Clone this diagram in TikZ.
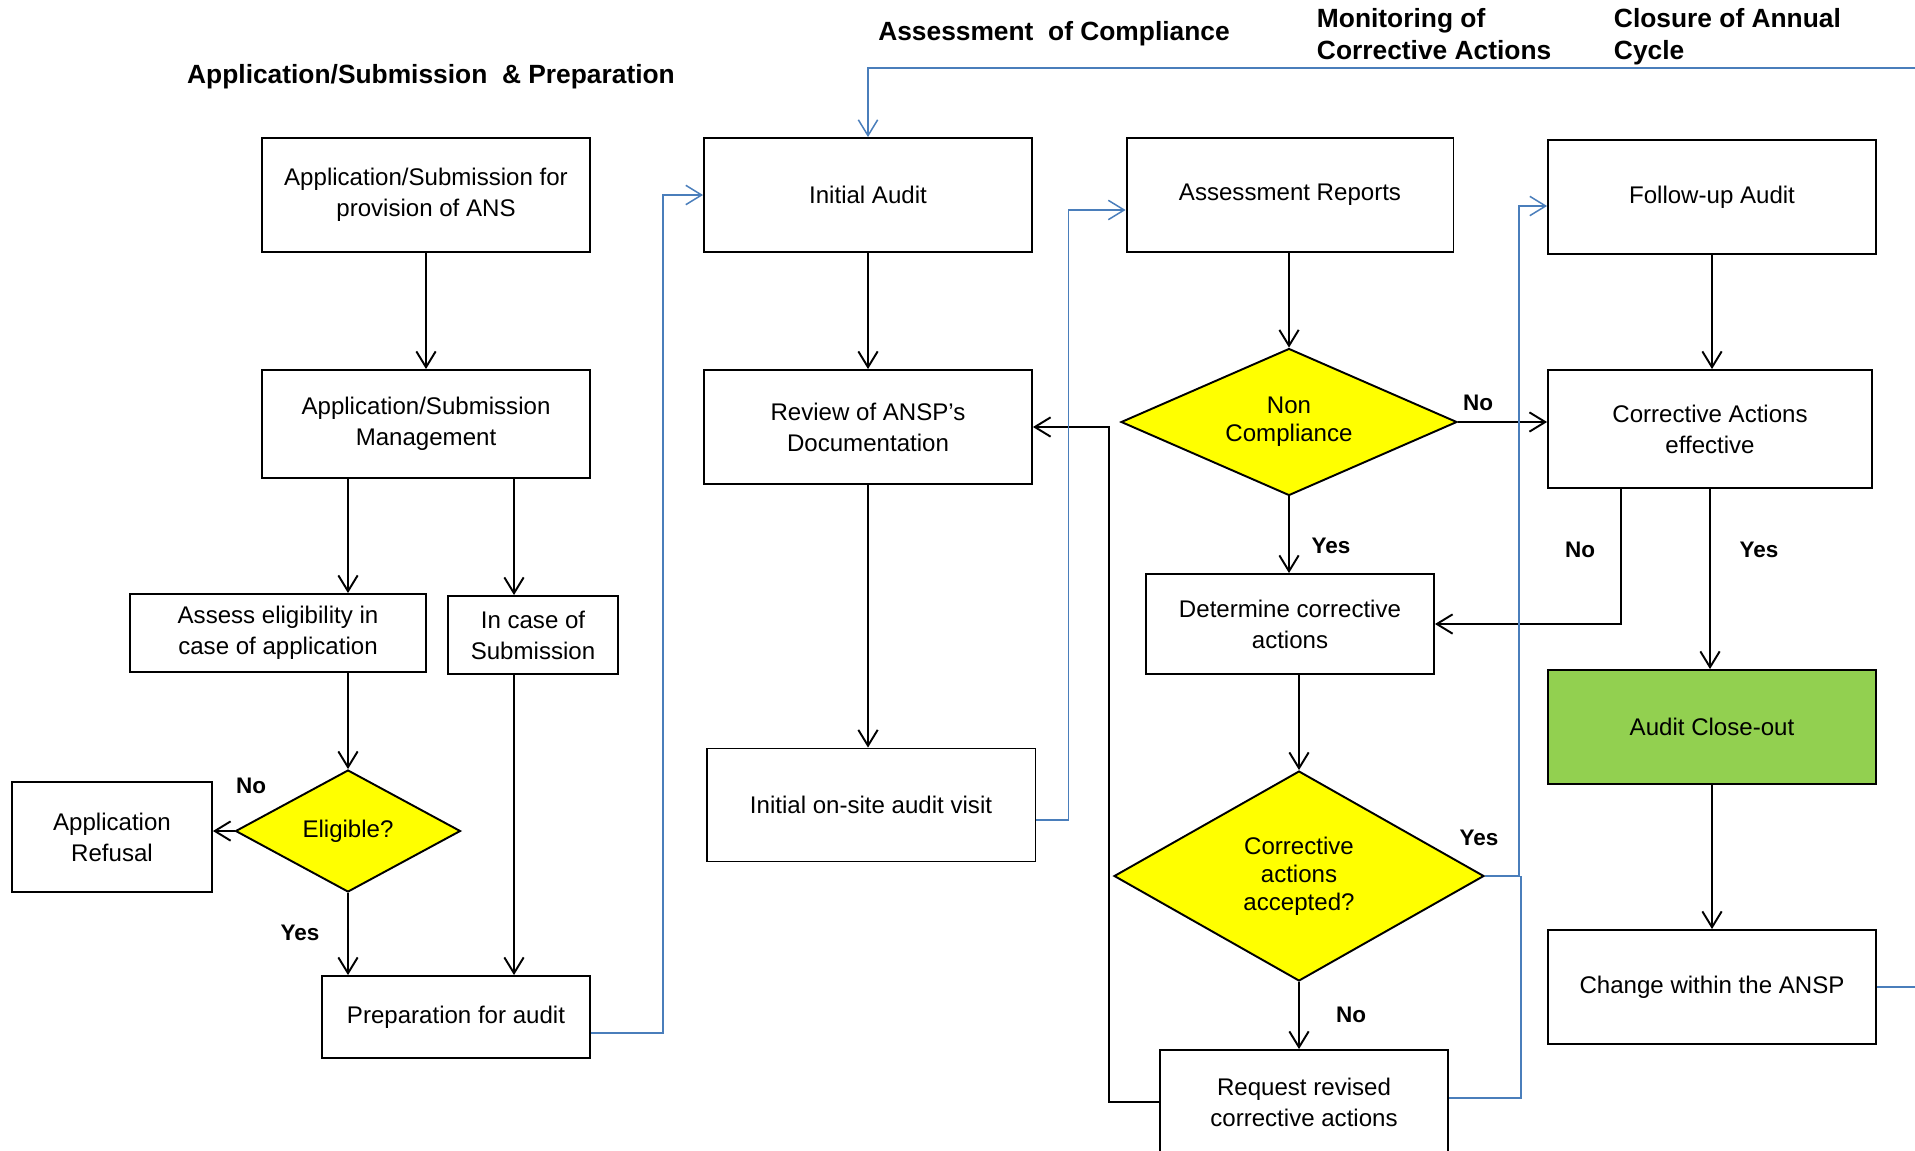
\documentclass[tikz,border=0pt]{standalone}
\usepackage{fontspec}
\setmainfont{Liberation Sans}
\usetikzlibrary{arrows.meta}
\usetikzlibrary{calc}
\usetikzlibrary{shapes.geometric}
\definecolor{lineblue}{HTML}{4A7EBB}
\definecolor{decyellow}{HTML}{FFFF00}
\definecolor{closegreen}{HTML}{92D050}
\begin{document}
\begin{tikzpicture}[x=0.02cm,y=-0.02cm,>={Straight Barb[length=9pt,width=11pt]},line width=1.1pt,
	box/.style={draw,line width=1.1pt,align=center,inner sep=2pt,font=\fontsize{13.7}{17.6}\selectfont},
	dec/.style={draw,diamond,fill=decyellow,aspect=1.8,inner sep=0pt,align=center,font=\fontsize{13.7}{16}\selectfont},
	lbl/.style={font=\bfseries\fontsize{12.8}{15}\selectfont},
	ttl/.style={font=\bfseries\fontsize{15}{18.2}\selectfont,align=left,inner sep=0pt},
	flow/.style={lineblue,line width=0.85pt}]
			\useasboundingbox(0,0)rectangle(1915,1150);
			\clip(0,0)rectangle(1915,1150);
			\node[ttl](T0)at(431,77){Application/Submission \ \& Preparation};
			\node[ttl](T1)at(1054,34){Assessment \ of Compliance};
			\node[ttl,anchor=west](T2)at(1316,34){Monitoring of\\Corrective Actions};
			\node[ttl,anchor=west](T3)at(1613,37){Closure of Annual\\Cycle};
			\node[box,minimum width=6.56cm,minimum height=2.28cm](P0)at(426,195){Application/Submission for\\provision of ANS};
			\node[box,minimum width=6.56cm,minimum height=2.16cm](P1)at(426,424){Application/Submission\\Management};
			\node[box,minimum width=5.92cm,minimum height=1.56cm](P2)at(278,633){Assess eligibility in\\case of application};
			\node[box,minimum width=3.4cm,minimum height=1.56cm](P3)at(533,635){In case of\\Submission};
			\node[dec,minimum width=4.5cm,minimum height=2.44cm](P4)at(348,831){Eligible?};
			\node[box,minimum width=4cm,minimum height=2.2cm](P5)at(112,837){Application\\Refusal};
			\node[box,minimum width=5.36cm,minimum height=1.64cm](P6)at(456,1017){Preparation for audit};
			\node[box,minimum width=6.56cm,minimum height=2.28cm](C0)at(868,195){Initial Audit};
			\node[box,minimum width=6.56cm,minimum height=2.28cm](C1)at(868,427){Review of ANSP’s\\Documentation};
			\node[box,minimum width=6.58cm,minimum height=2.26cm](C2)at(871,805){Initial on-site audit visit};
			\node[box,minimum width=6.54cm,minimum height=2.28cm](M0)at(1290,195){Assessment Reports};
			\node[dec,minimum width=6.72cm,minimum height=2.94cm](M1)at(1289,422){Non\\Compliance};
			\node[box,minimum width=5.76cm,minimum height=2cm](M2)at(1290,624){Determine corrective\\actions};
			\node[dec,minimum width=7.4cm,minimum height=4.2cm](M3)at(1299,876){Corrective\\actions\\accepted?};
			\node[box,minimum width=5.76cm,minimum height=2.08cm](M4)at(1304,1102){Request revised\\corrective actions};
			\node[box,minimum width=6.56cm,minimum height=2.28cm](Z0)at(1712,197){Follow-up Audit};
			\node[box,minimum width=6.48cm,minimum height=2.36cm](Z1)at(1710,429){Corrective Actions\\effective};
			\node[box,fill=closegreen,minimum width=6.56cm,minimum height=2.28cm](Z2)at(1712,727){Audit Close-out};
			\node[box,minimum width=6.56cm,minimum height=2.28cm](Z3)at(1712,987){Change within the ANSP};
			\node[lbl](N1)at(251,786){No};
			\node[lbl](Y1)at(300,933){Yes};
			\node[lbl](N2)at(1478,403){No};
			\node[lbl](Y2)at(1331,546){Yes};
			\node[lbl](Y3)at(1479,838){Yes};
			\node[lbl](N3)at(1351,1015){No};
			\node[lbl](N4)at(1580,550){No};
			\node[lbl](Y4)at(1759,550){Yes};
			\coordinate(s)at(514,0);
			\coordinate(R)at(1935,68);
			\draw[->](P0)--(P1);
			\draw[->](P1.south-|P4)--(P4|-P2.north);
			\draw[->](P1.south-|s)--(P3.north-|s);
			\draw[->](P2.south-|P4)--(P4.north);
			\draw[->](P4.west)--(P4.west-|P5.east);
			\draw[->](P4.south)--(P4|-P6.north);
			\draw[->](P3.south-|s)--(P6.north-|s);
			\draw[->](C0)--(C1);
			\draw[->](C1.south)--(C1.south|-C2.north);
			\draw[->](M0.south-|M1)--(M1.north);
			\draw[->](M1.east)--(M1.east-|Z1.west);
			\draw[->](M1.south)--(M1.south|-M2.north);
			\draw[->](M2.south-|M3)--(M3.north);
			\draw[->](M3.south)--(M3.south|-M4.north);
			\draw[->](M4.west)-|($(C1.east)+(76,0)$)--(C1.east);
			\draw[->](Z0.south)--(Z0.south|-Z1.north);
			\draw[->](Z1.south)--(Z1.south|-Z2.north);
			\draw[->]($(Z1.south west)+(74,0)$)|-(M2.east);
			\draw[->](Z2.south)--(Z2.south|-Z3.north);
			\draw[flow,->]($(P6.east)+(0,16)$)-|($(C0.west)+(-40,0)$)--(C0.west);
			\draw[flow,->]($(C2.east)+(0,15)$)-|($(M0.west)+(-57,15)$)--($(M0.west)+(0,15)$);
			\draw[flow,->](M3.east)-|($(Z0.west)+(-28,9)$)--($(Z0.west)+(0,9)$);
			\draw[flow]($(M4.east)+(0,-4)$)-|($(M3.east)+(36,0)$);
			\draw[flow,->](Z3.east)-|(R)-|(C0.north);
		\end{tikzpicture}
\end{document}
